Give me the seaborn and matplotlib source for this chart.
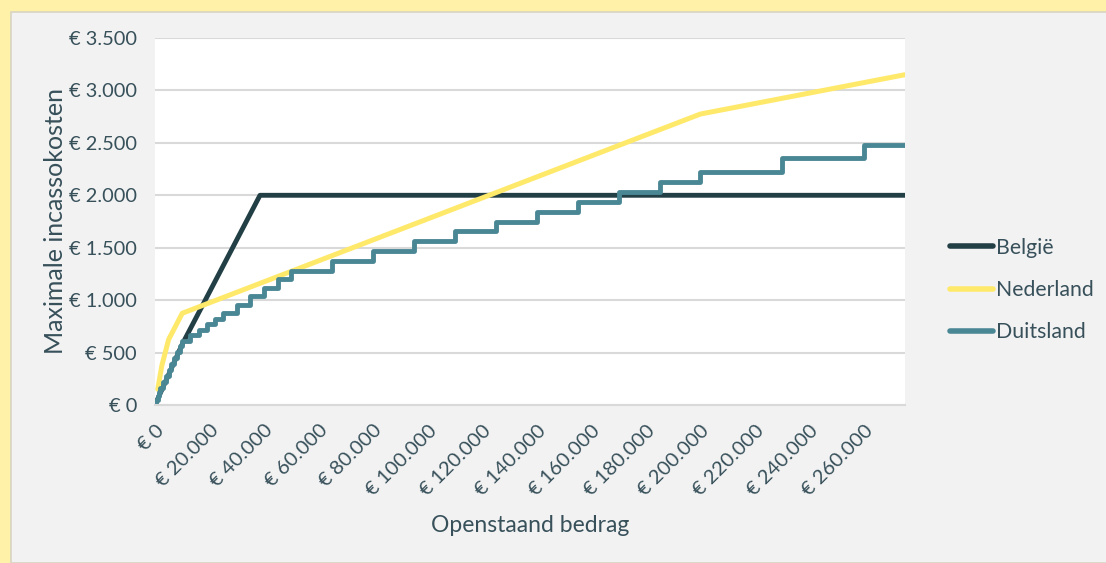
import pandas as pd
import seaborn as sns
import matplotlib.pyplot as plt
from matplotlib.patches import Rectangle

# data (openstaand bedrag -> maximale incassokosten)
belgie_x = [0, 10000, 38500, 275000]
belgie_y = [0, 580, 2000, 2000]

nederland_x = [1000, 2500, 5000, 10000, 200000, 275000]
nederland_y = [150, 375, 625, 875, 2775, 3150]

duitsland_x = [0, 500, 1000, 1500, 2000, 3000, 4000, 5000, 6000, 7000, 8000, 9000,
               10000, 13000, 16000, 19000, 22000, 25000, 30000, 35000, 40000, 45000,
               50000, 65000, 80000, 95000, 110000, 125000, 140000, 155000, 170000,
               185000, 200000, 230000, 260000, 275000]
duitsland_y = [0, 49, 88, 127, 166, 222, 278, 334, 390, 446, 502, 558,
               614, 666, 718, 770, 822, 874, 955, 1036, 1117, 1198,
               1279, 1373, 1467, 1561, 1655, 1749, 1843, 1937, 2031,
               2125, 2219, 2351, 2483, 2483]

x_ticks = list(range(0, 260001, 20000))
x_labels = ["€ 0", "€ 20.000", "€ 40.000", "€ 60.000", "€ 80.000", "€ 100.000",
            "€ 120.000", "€ 140.000", "€ 160.000", "€ 180.000", "€ 200.000",
            "€ 220.000", "€ 240.000", "€ 260.000"]
y_ticks = list(range(0, 3501, 500))
y_labels = ["€ 0", "€ 500", "€ 1.000", "€ 1.500", "€ 2.000", "€ 2.500",
            "€ 3.000", "€ 3.500"]

sns.set_style("white")
plt.rcParams['font.family'] = ['Lato', 'DejaVu Sans']
text_color = "#37505a"

fig = plt.figure(figsize=(11.06, 5.63), dpi=100, facecolor="#fff1a8")
panel = Rectangle((11 / 1106, 0), 1, 1 - 12 / 563, transform=fig.transFigure,
                  facecolor="#f2f2f2", edgecolor="#d8d5c2", lw=1.2, zorder=-10)
fig.add_artist(panel)

ax = fig.add_axes([155 / 1106, 1 - 405 / 563, 750 / 1106, 367 / 563])
ax.set_facecolor("white")

sns.lineplot(x=belgie_x, y=belgie_y, ax=ax, color="#233f46", lw=3.5,
             label="België", estimator=None, sort=False)
sns.lineplot(x=nederland_x, y=nederland_y, ax=ax, color="#ffe96b", lw=3.6,
             label="Nederland", estimator=None, sort=False)
sns.lineplot(x=duitsland_x, y=duitsland_y, ax=ax, color="#4a8794", lw=3.5,
             label="Duitsland", estimator=None, sort=False, drawstyle="steps-post")

ax.set_xlim(0, 275000)
ax.set_ylim(0, 3500)
ax.set_yticks(y_ticks)
ax.set_yticklabels(y_labels)
ax.set_xticks(x_ticks)
ax.set_xticklabels(x_labels, rotation=45, ha="right", va="top", rotation_mode="anchor")
ax.tick_params(axis="y", length=0, pad=13, labelsize=14.4, labelcolor=text_color)
ax.tick_params(axis="x", length=0, pad=12, labelsize=14.5, labelcolor=text_color)

ax.grid(axis="y", color="#d9d9d9", lw=1.5)
ax.grid(axis="x", visible=False)
for side in ["top", "right", "left"]:
    ax.spines[side].set_visible(False)
ax.spines["bottom"].set_color("#d9d9d9")
ax.spines["bottom"].set_linewidth(1.5)

ax.set_ylabel("Maximale incassokosten", fontsize=18, color=text_color)
ax.yaxis.set_label_coords(-0.118, 0.5)
ax.set_xlabel("Openstaand bedrag", fontsize=16.5, color=text_color)
ax.xaxis.set_label_coords(0.5, -0.3)

leg = ax.legend(loc="center left", bbox_to_anchor=(0.842, 0.485),
                bbox_transform=fig.transFigure, frameon=False, fontsize=15.3,
                handlelength=2.0, handletextpad=0.15, labelspacing=1.05)
for line in leg.get_lines():
    line.set_linewidth(4.0)
    line.set_solid_capstyle("round")
for t in leg.get_texts():
    t.set_color(text_color)

fig.savefig("out.png", dpi=100, facecolor=fig.get_facecolor())
